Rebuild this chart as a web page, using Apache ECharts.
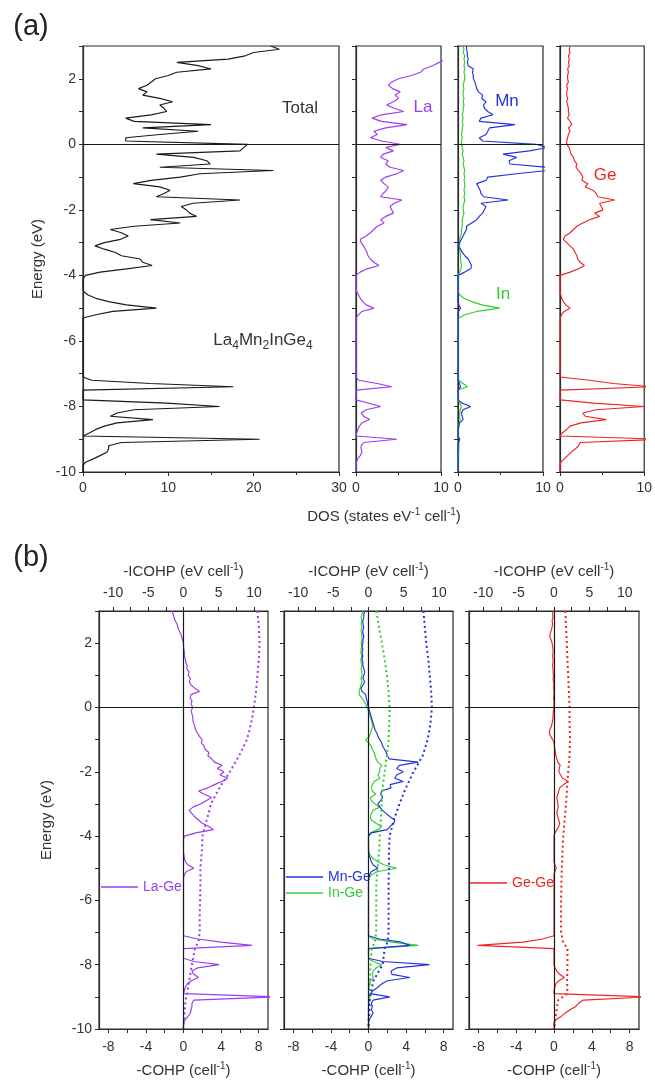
<!DOCTYPE html>
<html><head><meta charset="utf-8">
<script src="https://cdn.jsdelivr.net/npm/echarts@6/dist/echarts.min.js"></script>
<style>html,body{margin:0;padding:0;background:#fff}#c{width:655px;height:1082px}</style>
</head><body><div id="c"></div>
<script>
// Energy grid (eV), shared by DOS and COHP curves
const E = [
 3.0,2.9,2.8,2.7,2.6,2.5,2.4,2.3,2.2,2.1,
 2.0,1.9,1.8,1.7,1.6,1.5,1.4,1.3,1.2,1.1,
 1.0,0.9,0.8,0.7,0.6,0.5,0.4,0.3,0.2,0.1,
 0.0,-0.1,-0.2,-0.3,-0.4,-0.5,-0.6,-0.7,-0.8,-0.9,
 -1.0,-1.1,-1.2,-1.3,-1.4,-1.5,-1.6,-1.7,-1.8,-1.9,
 -2.0,-2.1,-2.2,-2.3,-2.4,-2.5,-2.6,-2.7,-2.8,-2.9,
 -3.0,-3.1,-3.2,-3.3,-3.4,-3.5,-3.6,-3.7,-3.8,-3.9,
 -4.0,-4.1,-4.2,-4.3,-4.4,-4.5,-4.6,-4.7,-4.8,-4.9,
 -5.0,-5.1,-5.2,-5.3,-5.4,-5.5,-5.6,-5.7,-5.8,-5.9,
 -6.0,-6.1,-6.2,-6.3,-6.4,-6.5,-6.6,-6.7,-6.8,-6.9,
 -7.0,-7.1,-7.2,-7.3,-7.4,-7.5,-7.6,-7.7,-7.8,-7.9,
 -8.0,-8.1,-8.2,-8.3,-8.4,-8.5,-8.6,-8.7,-8.8,-8.9,
 -9.0,-9.1,-9.2,-9.3,-9.4,-9.5,-9.6,-9.7,-9.8,-9.9,
 -10.0
];
// Total DOS
const DOS_TOTAL = [
 22,23,20,19,17,11,13.5,15,11,10,
 8.5,8,7.5,6.5,7.5,7,9,10.5,9,9.5,
 9.8,8,5,6,15,7,13.5,9,5,5,
 19.3,18.8,18.4,8.6,13,14.5,14.9,9,22.3,13.7,
 11.4,8,5.9,9,10.2,9.5,8.6,18.4,12.9,11.5,
 12.1,12.5,13.3,7.9,11.4,6,3.2,4.5,5.3,4.4,
 2.5,1.4,2.5,3.8,4.5,6.7,7,8.1,5.1,2,
 0.3,0,0,0,0,0.1,0.6,1.5,3,5.1,
 8.6,3.5,1.5,0,0,0,0,0,0,0,
 0,0,0,0,0,0,0,0,0,0,
 0,0,1,7.9,17.6,0,0,0,0,9.8,
 16,6,4,3.2,8.2,4,2.5,1.5,0.8,0,
 20.7,4.5,3,3,2.8,2,1.2,0.3,0,0,
 0
];
const DOS_LA = [
 12,12,11.5,11,10.5,9.8,9,8,7.6,6.5,
 5,4.2,3.8,4.3,5.2,4.6,5,4.4,3.6,4.5,
 5.6,3,1.9,3,6,3.5,2.1,2.5,1.7,3,
 5.2,3.5,4.4,3.2,2.9,3.8,3.5,4,5.6,4.8,
 3.5,2.9,3.3,3.8,3.6,3.2,2.9,5.4,4.5,4,
 4.2,4.4,3.5,2.9,3.3,2.5,2.1,1.7,1.2,0.5,
 0.6,0.9,1.1,1.3,1.4,1.7,2.1,2.7,1.3,0.5,
 0,0,0,0,0,0.1,0.3,0.5,0.8,1.2,
 2.1,0.7,0.3,0,0,0,0,0,0,0,
 0,0,0,0,0,0,0,0,0,0,
 0,0,0.3,2.5,4.2,0,0,0,0,1.5,
 2.9,1.2,0.6,0.9,1.6,0.7,0.4,0.2,0.1,0,
 4.8,0.9,0.6,0.6,0.7,0.5,0.2,0.05,0,0,
 0
];
const DOS_MN = [
 1,1,1.1,1.1,1.2,1.1,1.2,1.8,1.7,1.8,
 1.8,2,2.1,2.2,2.4,2.9,2.8,3.3,3,3.1,
 3.5,4.1,2.7,2.5,6.7,3.7,3.5,3.3,2.5,2.9,
 9.2,10.5,8.4,5.3,6.9,6,6.1,10.5,10.5,6.9,
 3.5,3.3,2.2,2.4,2.6,2.7,3,5.9,2.7,3.3,
 3.1,2.9,2.5,2.2,1.6,1,1,0.8,0.6,0.4,
 0.2,0,0.3,0.5,0.8,1.2,1.4,1.6,1.5,0.8,
 0,0,0,0,0,0,0,0,0,0.1,
 0.3,0.05,0,0,0,0,0,0,0,0,
 0,0,0,0,0,0,0,0,0,0,
 0,0,0,0.2,0.3,0,0,0,0,0.5,
 1.5,0.6,0.4,0.5,0.6,0.2,0.1,0,0,0,
 0.2,0.05,0,0,0,0,0,0,0,0,
 0
];
const DOS_IN = [
 0.6,0.7,0.6,0.8,0.7,0.8,0.7,0.8,0.7,0.8,
 0.8,0.7,0.6,0.7,0.6,0.6,0.7,0.6,0.7,0.6,
 0.6,0.5,0.6,0.5,0.6,0.5,0.5,0.4,0.5,0.4,
 0.4,0.5,0.6,0.5,0.6,0.7,0.6,0.7,0.8,0.7,
 0.8,0.7,0.8,0.8,0.7,0.8,0.7,0.8,0.7,0.6,
 0.6,0.7,0.6,0.5,0.5,0.5,0.4,0.4,0.3,0.2,
 0.2,0.15,0.2,0.25,0.3,0.3,0.35,0.4,0.35,0.2,
 0,0,0,0,0,0.05,0.2,0.7,1.6,2.8,
 4.9,2.2,0.8,0.1,0,0,0,0,0,0,
 0,0,0,0,0,0,0,0,0,0,
 0,0,0.1,0.6,1.1,0,0,0,0,0.2,
 0.4,0.3,0.2,0.2,0.25,0.15,0.1,0.05,0,0,
 0.2,0.1,0.1,0.08,0.07,0.05,0.02,0,0,0,
 0
];
const DOS_GE = [
 1.2,1.1,1.2,1,1.1,1,1.1,0.9,1,0.9,
 0.9,1,0.8,0.9,0.8,0.8,0.9,0.8,0.9,1,
 1,1.1,0.9,1.2,1.4,1,1.2,1,0.9,0.8,
 0.8,1.1,1.2,1.3,1.6,1.7,2,1.9,2.2,2.5,
 2.7,2.6,3.3,3,3.9,4.3,4.5,6.5,4.7,4.9,
 5.1,4.1,4.7,3.5,2.7,2,1.6,1.2,0.6,0.4,
 0.8,1.2,1.6,1.8,2,2.1,2.4,2.9,2.2,1.2,
 0,0,0,0,0,0,0.1,0.2,0.4,0.7,
 1.2,0.5,0.2,0,0,0,0,0,0,0,
 0,0,0,0,0,0,0,0,0,0,
 0,0,3.5,6.3,11,0,0,0,0,4,
 10,4.3,2.7,3,5.5,2.5,1.2,0.8,0.3,0,
 12,2.4,2.2,1.8,1.3,0.9,0.5,0.1,0,0,
 0
];
// -COHP curves
const COHP_LAGE = [
 -1.2,-1.1,-1.0,-0.9,-0.7,-0.6,-0.5,-0.3,-0.2,-0.1,
 0,0,0.05,0.1,0.1,0.2,0.25,0.4,0.35,0.6,
 0.5,0.75,0.6,0.8,1.2,1.7,0.8,0.7,0.9,0.8,
 1.0,0.8,0.9,1.0,1.0,1.1,1.2,1.3,1.5,1.7,
 2.0,1.9,2.2,2.3,2.7,2.6,3.0,3.3,4.1,3.6,
 4.3,3.9,4.7,4.1,3.3,2.6,1.6,2.2,3.0,2.4,
 1.8,1.0,0.6,0.9,1.2,1.6,2.0,2.7,3.2,1.3,
 0.1,0,0,0,0,0,0.05,0.1,0.2,0.5,
 1.1,0.3,0.1,0,0,0,0,0,0,0,
 0,0,0,0,0,0,0,0,0,0,
 0,0,1.5,4,7.3,0,0,0,0,1.1,
 3.8,1.5,0.9,1.1,1.6,0.8,0.4,0.2,0.1,0,
 10,1.1,0.9,0.9,0.8,0.75,0.5,0.2,0,0,
 0
];
const COHP_MNGE = [
 -0.4,-0.5,-0.5,-0.6,-0.6,-0.5,-0.6,-0.6,-0.5,-0.6,
 -0.6,-0.7,-0.6,-0.7,-0.6,-0.7,-0.6,-0.6,-0.5,-0.4,
 -0.5,-0.6,-0.4,-0.6,-0.8,-0.7,-0.3,-0.25,-0.15,-0.1,
 0,0.1,0.2,0.3,0.4,0.5,0.6,0.7,0.9,1.0,
 1.2,1.4,1.5,1.7,1.9,2.0,2.2,5.3,3.3,3.0,
 3.7,3.0,2.8,3.7,2.3,2.4,1.4,1.3,1.5,1.3,
 1.0,1.2,1.5,1.9,2.3,2.8,2.7,2.3,2.0,0.3,
 0,0,0,0,0,0,0.05,0.2,0.3,0.5,
 1.0,0.3,0.1,0,0,0,0,0,0,0,
 0,0,0,0,0,0,0,0,0,0,
 0,0,1.2,3.5,4.4,0,0,0,0,1.5,
 6.5,3.0,2.4,2.5,4.4,2.0,1.4,1.0,0.5,0.2,
 2.25,0.5,0.3,0.4,0.3,0.5,0.3,0.1,0,0,
 0
];
const COHP_INGE = [
 -0.6,-0.7,-0.8,-0.7,-0.8,-0.7,-0.8,-0.7,-0.7,-0.7,
 -0.8,-0.7,-0.8,-0.8,-0.7,-0.8,-0.8,-0.7,-0.8,-0.7,
 -0.7,-0.8,-0.7,-0.8,-0.9,-1.0,-1.0,-0.7,-0.5,-0.3,
 -0.15,0,0.1,0.2,0.3,0.4,0.45,0.3,0.2,0.1,
 -0.3,0,0.3,0.4,0.6,0.7,0.8,1.0,1.4,1.2,
 1.2,1.0,1.2,0.6,0.4,0.3,0.4,0.8,0.2,0.3,
 0.7,1.2,0.5,0.3,0.2,0.3,0.8,1.4,1.0,0.2,
 0,0,0,0,0,0.05,0.2,0.5,1.0,1.7,
 3.0,1.0,0.3,0.05,0,0,0,0,0,0,
 0,0,0,0,0,0,0,0,0,0,
 0,0,0.5,2.5,5.3,0,0,0,0,0.5,
 1.4,0.8,0.5,0.4,0.5,0.2,0.1,0.05,0,0,
 0.15,0.05,0.05,0,0,0,0,0,0,0,
 0
];
const COHP_GEGE = [
 -0.1,-0.15,-0.1,-0.2,-0.15,-0.2,-0.3,-0.4,-0.45,-0.3,
 -0.2,-0.15,-0.1,-0.1,-0.15,-0.1,-0.1,-0.15,-0.1,-0.1,
 -0.05,-0.1,-0.05,0,-0.05,0,0,-0.05,0,0,
 0,-0.05,-0.1,-0.1,-0.15,-0.2,-0.3,-0.45,-0.5,-0.35,
 -0.15,0,0.05,0.1,0.15,0.2,0.3,0.4,0.65,0.55,
 0.5,0.7,0.9,1.5,1.0,0.6,0.5,0.4,0.3,0.35,
 0.4,0.45,0.35,0.3,0.4,0.5,0.6,0.5,0.3,0.1,
 0,0,0,0,0,0,0,0,0,0.1,
 0.25,0.1,0,0,0,0,0,0,0,0,
 0,0,0,0,0,0,0,0,0,0,
 0,0,-1.2,-3.3,-8.1,0,0,0,0,0,
 0,0.1,0.3,0.6,1.1,0.5,0.2,0.1,0,0,
 10,3.1,2.6,2.3,1.7,1.2,0.8,0.25,0,0,
 0
];
// -ICOHP curves (coarser energy grid)
const EI = [3,2.5,2,1.5,1,0.5,0,-0.5,-1,-1.5,-2,-2.5,-3,-3.5,-4,-4.5,-5,-5.5,-6,-6.5,-7,-7.3,-7.5,-8,-8.5,-8.9,-9.1,-9.5,-10];
const ICOHP_LAGE = [10.5,10.7,10.8,10.7,10.5,10.3,10,9.6,9,7.9,6.6,5.1,3.9,3.3,2.7,2.6,2.4,2.4,2.35,2.3,2.3,2.1,1.6,1.2,0.8,0.5,0.3,0.15,0];
const ICOHP_MNGE = [7.8,8.0,8.2,8.5,8.7,8.9,9.0,8.8,8.4,7.7,6.4,5.3,4.4,3.6,3.0,2.9,2.9,2.85,2.85,2.85,2.85,2.7,2.3,2.0,0.7,0.3,0.2,0.1,0];
const ICOHP_INGE = [1.1,1.5,1.9,2.3,2.6,2.85,3.0,2.95,2.85,2.6,2.3,2.0,1.85,1.75,1.6,1.5,1.3,1.1,1.1,1.1,1.1,0.9,0.45,0.3,0.2,0.1,0.05,0.02,0];
const ICOHP_GEGE = [1.6,1.7,1.8,1.9,2.0,2.1,2.2,2.2,2.25,2.2,2.0,1.85,1.7,1.5,1.3,1.2,1.1,1.05,1.0,1.0,1.0,1.3,1.9,1.9,1.85,1.9,0.6,0.3,0];

// tick values
const COHP_TICKS = [-8,-6,-4,-2,0,2,4,6,8];
const COHP_LABELS = [-8,-4,0,4,8];
const ICOHP_TICKS = [-10,-7.5,-5,-2.5,0,2.5,5,7.5,10];
const ICOHP_LABELS = [-10,-5,0,5,10];

const FONT = "'Liberation Sans', Arial, Helvetica, sans-serif";
const AX = '#2a2a2a';
const TXT = '#333';
const PURPLE = '#9a3cf0', BLUE = '#2233dd', GREEN = '#33cc33', RED = '#ee2525', BLACK = '#1a1a1a';

const chart = echarts.init(document.getElementById('c'), null, {renderer: 'canvas'});

const toPairs = (vals, es) => es.map((e, i) => [vals[i], e]);

const gridBoxes = [
  [83, 46, 256, 426], [356, 46, 85, 426], [458, 46, 85, 426], [560, 46, 85, 426],
  [99, 611, 169, 422], [284, 611, 169, 422], [469, 611, 170, 422]
];
const grids = gridBoxes.map(b => ({left: b[0], top: b[1], width: b[2], height: b[3],
  show: true, borderColor: AX, borderWidth: 1.2, backgroundColor: 'transparent'}));

const axLine = {show: true, onZero: false, lineStyle: {color: AX, width: 1.2}};
const lblStyle = (extra) => Object.assign({color: TXT, fontSize: 14, fontFamily: FONT}, extra || {});
const supRich = {s: {fontSize: 10, lineHeight: 10, verticalAlign: 'top', color: TXT, fontFamily: FONT}};

const yAxes = gridBoxes.map((b, g) => {
  const first = (g === 0 || g === 4);
  return {
    type: 'value', gridIndex: g, min: -10, max: 3, interval: 1, position: 'left',
    axisLine: axLine,
    axisTick: {show: true, length: 4, lineStyle: {color: AX, width: 1}},
    axisLabel: lblStyle({show: first, margin: 7, formatter: v => (Math.round(v) % 2 === 0 ? String(v) : '')}),
    splitLine: {show: false},
    name: first ? 'Energy (eV)' : '', nameLocation: 'middle', nameRotate: 90,
    nameGap: g === 0 ? 38 : 45,
    nameTextStyle: {color: TXT, fontSize: 15, fontFamily: FONT}
  };
});

const xAxes = [];
// panel (a): DOS axes
for (let g = 0; g < 4; g++) {
  xAxes.push({
    type: 'value', gridIndex: g, min: 0, max: g === 0 ? 30 : 10, interval: 10, position: 'bottom',
    axisLine: axLine,
    axisTick: {show: true, length: 4, lineStyle: {color: AX, width: 1}},
    minorTick: {show: true, splitNumber: 2, length: 3, lineStyle: {color: AX, width: 1}},
    axisLabel: lblStyle({margin: 9}),
    splitLine: {show: false}, minorSplitLine: {show: false}
  });
}
// panel (b): COHP bottom + ICOHP top
for (let g = 4; g < 7; g++) {
  xAxes.push({
    type: 'value', gridIndex: g, min: -9, max: 9, position: 'bottom',
    axisLine: axLine,
    axisTick: {show: true, length: 4, customValues: COHP_TICKS, lineStyle: {color: AX, width: 1}},
    axisLabel: lblStyle({margin: 11, customValues: COHP_LABELS}),
    splitLine: {show: false},
    name: '-COHP (cell{s|-1})', nameLocation: 'middle', nameGap: 32,
    nameTextStyle: {color: TXT, fontSize: 15, fontFamily: FONT, lineHeight: 20, rich: supRich}
  });
  xAxes.push({
    type: 'value', gridIndex: g, min: -12, max: 12, position: 'top',
    axisLine: axLine,
    axisTick: {show: true, length: 4, customValues: ICOHP_TICKS, lineStyle: {color: AX, width: 1}},
    axisLabel: lblStyle({margin: 11, customValues: ICOHP_LABELS}),
    splitLine: {show: false},
    name: '-ICOHP (eV cell{s|-1})', nameLocation: 'middle', nameGap: 29,
    nameTextStyle: {color: TXT, fontSize: 15, fontFamily: FONT, lineHeight: 20, rich: supRich}
  });
}

function line(name, xi, yi, vals, es, color, dotted, mark) {
  const s = {
    name, type: 'line', xAxisIndex: xi, yAxisIndex: yi, data: toPairs(vals, es),
    symbol: 'none', showSymbol: false, clip: true, animation: false,
    emphasis: {disabled: true},
    lineStyle: {color, width: dotted ? 2 : 1.15, type: dotted ? [2, 3] : 'solid'},
    itemStyle: {color}, z: 3
  };
  if (mark) {
    s.markLine = {silent: true, symbol: 'none', animation: false, label: {show: false},
      lineStyle: {color: BLACK, width: 1.2, type: 'solid'}, data: mark};
  }
  return s;
}
const zeroA = [{yAxis: 0}];
const zeroB = [{yAxis: 0}, {xAxis: 0}];

const series = [
  line('Total', 0, 0, DOS_TOTAL, E, BLACK, false, zeroA),
  line('La', 1, 1, DOS_LA, E, PURPLE, false, zeroA),
  line('In', 2, 2, DOS_IN, E, GREEN, false, null),
  line('Mn', 2, 2, DOS_MN, E, BLUE, false, zeroA),
  line('Ge', 3, 3, DOS_GE, E, RED, false, zeroA),
  line('La-Ge', 4, 4, COHP_LAGE, E, PURPLE, false, zeroB),
  line('La-Ge ICOHP', 5, 4, ICOHP_LAGE, EI, PURPLE, true, null),
  line('In-Ge', 6, 5, COHP_INGE, E, GREEN, false, null),
  line('Mn-Ge', 6, 5, COHP_MNGE, E, BLUE, false, zeroB),
  line('In-Ge ICOHP', 7, 5, ICOHP_INGE, EI, GREEN, true, null),
  line('Mn-Ge ICOHP', 7, 5, ICOHP_MNGE, EI, BLUE, true, null),
  line('Ge-Ge', 8, 6, COHP_GEGE, E, RED, false, zeroB),
  line('Ge-Ge ICOHP', 9, 6, ICOHP_GEGE, EI, RED, true, null)
];

const LEG_ICON = 'path://M0,0L37,0L37,1.5L0,1.5Z';
const legBase = {selectedMode: false, itemWidth: 37, itemHeight: 14, padding: 0, itemGap: 2,
  icon: LEG_ICON, symbolKeepAspect: true, textStyle: {fontSize: 14, fontFamily: FONT}};
const legend = [
  Object.assign({}, legBase, {left: 101, top: 880,
    data: [{name: 'La-Ge', icon: LEG_ICON, textStyle: {color: PURPLE}}]}),
  Object.assign({}, legBase, {left: 286, top: 870, orient: 'vertical',
    data: [{name: 'Mn-Ge', icon: LEG_ICON, textStyle: {color: BLUE}},
           {name: 'In-Ge', icon: LEG_ICON, textStyle: {color: GREEN}}]}),
  Object.assign({}, legBase, {left: 470, top: 876,
    data: [{name: 'Ge-Ge', icon: LEG_ICON, textStyle: {color: RED}}]})
];

function txt(x, y, text, size, color, extra) {
  return {type: 'text', x, y, silent: true, z: 10,
    style: Object.assign({text, font: size + 'px ' + FONT, fill: color, align: 'center', verticalAlign: 'middle'}, extra || {})};
}
const graphic = [
  txt(31, 27, '(a)', 29, '#222'),
  txt(31, 558, '(b)', 29, '#222'),
  txt(300, 108, 'Total', 17, TXT),
  txt(263, 340, 'La{d|4}Mn{d|2}InGe{d|4}', 17, TXT, {lineHeight: 24,
    rich: {d: {fontSize: 12, fontFamily: FONT, lineHeight: 12, verticalAlign: 'bottom', fill: TXT}}}),
  txt(423, 107, 'La', 17, PURPLE),
  txt(507, 101, 'Mn', 17, BLUE),
  txt(503, 294, 'In', 17, GREEN),
  txt(605, 175, 'Ge', 17, RED),
  txt(384, 517, 'DOS (states eV{s|-1} cell{s|-1})', 15, TXT, {lineHeight: 20,
    rich: {s: {fontSize: 10, fontFamily: FONT, lineHeight: 10, verticalAlign: 'top', fill: TXT}}})
];

chart.setOption({
  animation: false,
  backgroundColor: '#fff',
  grid: grids, xAxis: xAxes, yAxis: yAxes, series, legend, graphic
});
</script></body></html>
